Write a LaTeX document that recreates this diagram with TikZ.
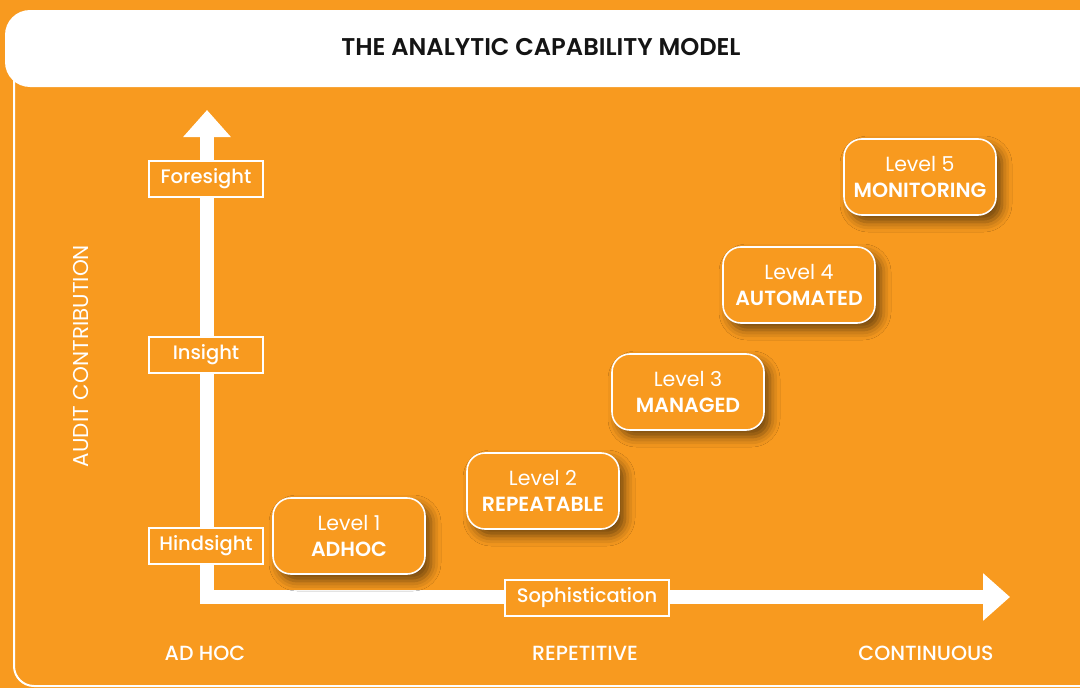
\documentclass[tikz,border=0pt]{standalone}
\usepackage{fontspec}
\setmainfont{Poppins}[BoldFont={Poppins SemiBold}]
\newfontfamily\mediumfont{Poppins Medium}
\usetikzlibrary{arrows.meta,shadows.blur}
\definecolor{capaorange}{RGB}{248,154,31}
\definecolor{titleink}{RGB}{20,20,20}
\tikzset{
    axislabel/.style={draw=white, line width=1.6pt, fill=capaorange, text=white,
        minimum width=114pt, minimum height=36pt, inner sep=0pt,
        font=\mediumfont\fontsize{19.5}{22}\selectfont},
    levelbox/.style={draw=white, line width=1.6pt, fill=capaorange, text=white,
        rounded corners=18pt, minimum width=152pt, minimum height=76pt,
        align=center, font=\fontsize{20.5}{26}\selectfont,
        blur shadow={shadow xshift=6pt, shadow yshift=-7pt,
            shadow blur radius=10pt, shadow opacity=55}},
    scalelabel/.style={text=white, font=\mediumfont\fontsize{20.5}{22}\selectfont}
}
\begin{document}
\begin{tikzpicture}[x=1pt,y=-1pt]
    \useasboundingbox (0,0) rectangle (1080,688);
    \clip (0,0) rectangle (1080,688);
    \fill[capaorange] (0,0) rectangle (1080,688);
    % frame and title bar
    \draw[white, line width=2pt, rounded corners=20pt] (14,60) -- (14,686) -- (1120,686);
    \fill[white, rounded corners=25pt] (5,10) rectangle (1110,87);
    \node[text=titleink, font=\bfseries\fontsize{24.2}{26}\selectfont] (title) at (541,47)
        {THE ANALYTIC CAPABILITY MODEL};
    % axes
    \coordinate (origin) at (207,597);
    \coordinate (ytip) at (207,110);
    \coordinate (xtip) at (1010,597);
    \draw[white, line width=14pt, line join=miter,
        {Triangle[length=27pt,width=46pt]}-{Triangle[length=27pt,width=46pt]}]
        (ytip) -- (origin) -- (xtip);
    \node[axislabel] (foresight) at (206,179) {Foresight};
    \node[axislabel] (insight) at (206,355) {Insight};
    \node[axislabel] (hindsight) at (206,546) {Hindsight};
    \node[axislabel, minimum width=164pt] (sophistication) at (587,598) {Sophistication};
    \node[scalelabel, rotate=90, font=\fontsize{21.5}{22}\selectfont] (contribution) at (81,356) {AUDIT CONTRIBUTION};
    \node[scalelabel] (adhoc) at (205,653) {AD HOC};
    \node[scalelabel] (repetitive) at (585,653) {REPETITIVE};
    \node[scalelabel] (continuous) at (926,653) {CONTINUOUS};
    % capability levels
    \node[levelbox] (level1) at (349,536) {Level 1\\\textbf{ADHOC}};
    \node[levelbox] (level2) at (543,491) {Level 2\\\textbf{REPEATABLE}};
    \node[levelbox] (level3) at (688,392) {Level 3\\\textbf{MANAGED}};
    \node[levelbox] (level4) at (799,285) {Level 4\\\textbf{AUTOMATED}};
    \node[levelbox] (level5) at (920,177) {Level 5\\\textbf{MONITORING}};
\end{tikzpicture}
\end{document}
